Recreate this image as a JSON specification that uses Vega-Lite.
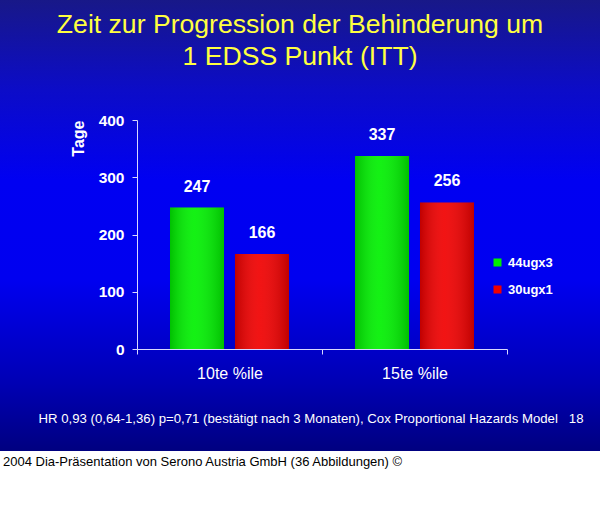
{
  "$schema": "https://vega.github.io/schema/vega-lite/v6.json",
  "background": "white",
  "padding": 0,
  "title": {
    "text": "2004 Dia-Präsentation von Serono Austria GmbH (36 Abbildungen) ©",
    "orient": "bottom",
    "anchor": "start",
    "offset": 5,
    "dx": 3,
    "font": "Liberation Sans",
    "fontSize": 13,
    "fontWeight": "normal",
    "color": "black"
  },
  "config": {
    "font": "Liberation Sans",
    "view": {"stroke": null}
  },
  "vconcat": [
    {
      "width": 600,
      "height": 451,
      "view": {
        "stroke": null,
        "fill": {
          "gradient": "linear",
          "x1": 0, "y1": 0, "x2": 0, "y2": 1,
          "stops": [
            {"offset": 0, "color": "#181888"},
            {"offset": 0.2, "color": "#0c0cc8"},
            {"offset": 0.4, "color": "#0000f2"},
            {"offset": 0.62, "color": "#0000f0"},
            {"offset": 0.85, "color": "#0000b4"},
            {"offset": 1, "color": "#000080"}
          ]
        }
      },
      "title": {
        "text": ["Zeit zur Progression der Behinderung um", "1 EDSS Punkt (ITT)"],
        "anchor": "middle",
        "offset": -71,
        "font": "Liberation Sans",
        "fontSize": 26.6,
        "fontWeight": "normal",
        "lineHeight": 32,
        "color": "#ffff40"
      },
      "data": {
        "values": [
          {"perzentil": "10te %ile", "dosis": "44ugx3", "tage": 247},
          {"perzentil": "10te %ile", "dosis": "30ugx1", "tage": 166},
          {"perzentil": "15te %ile", "dosis": "44ugx3", "tage": 337},
          {"perzentil": "15te %ile", "dosis": "30ugx1", "tage": 256}
        ]
      },
      "encoding": {
        "x": {
          "field": "perzentil",
          "type": "nominal",
          "sort": ["10te %ile", "15te %ile"],
          "scale": {"range": [137, 507], "paddingInner": 0, "paddingOuter": 0},
          "axis": {
            "orient": "bottom",
            "offset": -102,
            "tickBand": "extent",
            "labelAngle": 0,
            "labelFontSize": 16,
            "labelColor": "white",
            "labelPadding": 11,
            "tickSize": 5,
            "tickColor": "#d8d8ff",
            "domainColor": "#d8d8ff",
            "title": "HR 0,93 (0,64-1,36) p=0,71 (bestätigt nach 3 Monaten), Cox Proportional Hazards Model\u00a0\u00a0\u00a018",
            "titleFontSize": 13.2,
            "titleFontWeight": "normal",
            "titleColor": "white",
            "titleX": 38,
            "titleY": 73,
            "titleAlign": "left",
            "titleBaseline": "alphabetic"
          }
        },
        "xOffset": {
          "field": "dosis",
          "type": "nominal",
          "sort": ["44ugx3", "30ugx1"],
          "scale": {"paddingInner": 0.169, "paddingOuter": 0.508}
        },
        "y": {
          "field": "tage",
          "type": "quantitative",
          "scale": {"domain": [0, 400], "range": [349, 120], "nice": false},
          "axis": {
            "orient": "left",
            "offset": -137,
            "values": [0, 100, 200, 300, 400],
            "grid": false,
            "tickSize": 5,
            "tickColor": "#d8d8ff",
            "domainColor": "#d8d8ff",
            "labelFontSize": 15.5,
            "labelFontWeight": "bold",
            "labelColor": "white",
            "labelPadding": 8,
            "title": "Tage",
            "titleAnchor": "end",
            "titleFontSize": 16,
            "titleFontWeight": "bold",
            "titleColor": "white",
            "titlePadding": 12
          }
        }
      },
      "layer": [
        {
          "mark": {"type": "bar"},
          "encoding": {
            "color": {
              "field": "dosis",
              "type": "nominal",
              "sort": ["44ugx3", "30ugx1"],
              "scale": {"domain": ["44ugx3", "30ugx1"], "range": ["#00f000", "#f00000"]},
              "legend": {
                "orient": "none",
                "legendX": 491,
                "legendY": 256,
                "title": null,
                "padding": 0,
                "symbolType": "square",
                "symbolSize": 64,
                "symbolStrokeWidth": 0,
                "symbolOpacity": 1,
                "labelFontSize": 13,
                "labelFontWeight": "bold",
                "labelColor": "white",
                "labelOffset": 4,
                "rowPadding": 13
              }
            }
          }
        },
        {
          "mark": {
            "type": "bar",
            "fill": {
              "gradient": "linear",
              "x1": 0, "y1": 0, "x2": 1, "y2": 0,
              "stops": [
                {"offset": 0, "color": "rgba(0,0,0,0.2)"},
                {"offset": 0.45, "color": "rgba(255,255,255,0.08)"},
                {"offset": 1, "color": "rgba(0,0,0,0.2)"}
              ]
            }
          }
        },
        {
          "mark": {
            "type": "text",
            "baseline": "middle",
            "dy": -21,
            "fontSize": 16,
            "fontWeight": "bold",
            "color": "white"
          },
          "encoding": {"text": {"field": "tage", "type": "quantitative"}}
        }
      ]
    }
  ]
}
